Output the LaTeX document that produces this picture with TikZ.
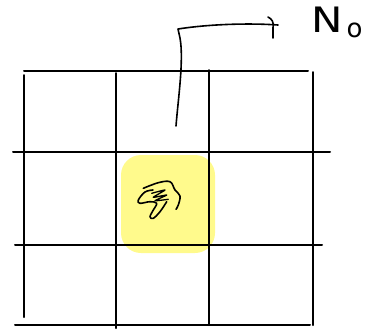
\documentclass[tikz,border=0pt]{standalone}
\usepackage{fontspec}
\setmainfont{DejaVu Sans}
\begin{document}
\begin{tikzpicture}[x=1pt,y=-1pt,
  gridline/.style={line width=2pt,line cap=round},
  pen/.style={line width=1.6pt,line cap=round,line join=round},
  highlight/.style={fill={rgb,255:red,255;green,250;blue,140},draw=none,rounded corners=20pt}]
\useasboundingbox (0,0) rectangle (366,330);
\clip (0,0) rectangle (366,330);

% highlighted centre cell (under the grid)
\node[highlight,minimum width=94pt,minimum height=98pt,inner sep=0pt] (cell) at (168,204) {};

% grid: horizontal strokes
\draw[gridline] (24,71) -- (308,71);
\draw[gridline] (13,152) -- (330,152);
\draw[gridline] (15,245) -- (322,245);
\draw[gridline] (15,325) -- (310,325);
% grid: vertical strokes
\draw[gridline] (24,75) -- (24,317);
\draw[gridline] (116,73) -- (116,328);
\draw[gridline] (209,70) -- (209,325);
\draw[gridline] (313,72) -- (313,325);

% scribble inside the highlighted cell
\draw[pen,line width=1.6pt] plot[smooth,tension=0.6] coordinates {
  (153,190) (145,192) (138.3,200) (140,203.3) (150,201.7) (156.7,203.3)
  (153.3,210) (150,216.7) (153.3,218.3) (160,211.7) (166.7,201.7)};
\draw[pen,line width=1.6pt] plot[smooth,tension=0.6] coordinates {
  (143.3,188.3) (158.3,182.7) (170,181.7) (175,190) (180,196) (178.3,205) (176,209.3)};
\draw[pen,line width=1.3pt] plot[smooth,tension=0.3] coordinates {
  (151.7,193.3) (165,190) (153.3,197.3) (166.7,195) (155,200.7) (168.3,199.3)};

% label and the hand-drawn pointer leading to it
\node[anchor=base west,inner sep=0pt,font=\fontsize{35}{35}\selectfont] (lbl) at (311,32)
  {\scalebox{1.2}[1]{N}\kern4pt\raisebox{-5pt}{\fontsize{26}{26}\selectfont o}};
\coordinate (start) at (176,126);
\coordinate (corner) at (178,29);
\coordinate (tip) at (278,25);
\draw[pen] (start) .. controls (178,100) and (184,60) .. (180,38) -- (corner)
  .. controls (210,24) and (250,23) .. (tip);
\draw[pen] (268,17) .. controls (272,19) and (274,22) .. (273,28) -- (273,38);
\end{tikzpicture}
\end{document}
